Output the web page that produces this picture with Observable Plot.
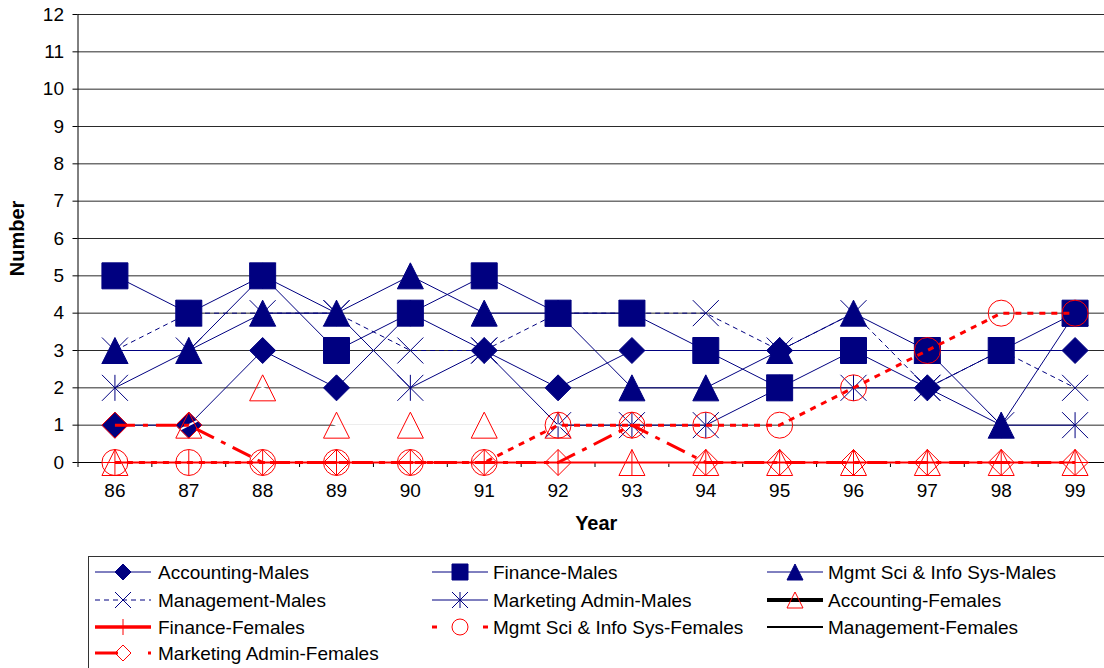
<!DOCTYPE html>
<html><head><meta charset="utf-8">
<script src="https://cdn.jsdelivr.net/npm/d3@7"></script>
<script src="https://cdn.jsdelivr.net/npm/@observablehq/plot@0.6"></script>
<style>
body{margin:0;background:#fff;overflow:hidden;font-family:"Liberation Sans",Arial,sans-serif;}
#wrap{position:relative;width:1104px;height:668px;overflow:hidden;}
#chart svg,#legend svg{display:block;}
</style></head>
<body><div id="wrap"><div id="chart"></div><div id="legend"></div></div>
<script>
// ---- data ----
const years = [86,87,88,89,90,91,92,93,94,95,96,97,98,99];
const accountingMales   = [1,1,3,2,4,3,2,3,3,3,3,2,3,3];
const financeMales      = [5,4,5,3,4,5,4,4,3,2,3,3,3,4];
const msisMales         = [3,3,4,4,5,4,4,2,2,3,4,3,1,4];
const managementMales   = [3,4,4,4,3,3,4,4,4,3,4,2,3,2];
const marketingMales    = [2,3,5,4,2,3,1,1,1,2,2,2,1,1];
const accountingFemales = [0,1,2,1,1,1,1,0,0,0,0,0,0,0];
const financeFemales    = [0,0,0,0,0,0,0,0,0,0,0,0,0,0];
const msisFemales       = [0,0,0,0,0,0,1,1,1,1,2,3,4,4];
const managementFemales = [0,0,0,0,0,0,0,0,0,0,0,0,0,0];
const marketingFemales  = [1,1,0,0,0,0,0,1,0,0,0,0,0,0];
const yTicks = [0,1,2,3,4,5,6,7,8,9,10,11,12];
const seriesNames = ["Accounting-Males","Finance-Males","Mgmt Sci & Info Sys-Males","Management-Males","Marketing Admin-Males","Accounting-Females","Finance-Females","Mgmt Sci & Info Sys-Females","Management-Females","Marketing Admin-Females"];
const xTitle = "Year", yTitle = "Number";

// ---- symbols (Excel-like markers) ----
function mk(f){return {draw(c,size){const r=Math.sqrt(size/Math.PI);f(c,r);}};}
const SYM = {
  diamond: mk((c,r)=>{c.moveTo(0,-r);c.lineTo(r,0);c.lineTo(0,r);c.lineTo(-r,0);c.closePath();}),
  square: mk((c,r)=>{c.moveTo(-r,-r);c.lineTo(r,-r);c.lineTo(r,r);c.lineTo(-r,r);c.closePath();}),
  triangle: mk((c,r)=>{c.moveTo(0,-r);c.lineTo(r,r);c.lineTo(-r,r);c.closePath();}),
  times: mk((c,r)=>{c.moveTo(-r,-r);c.lineTo(r,r);c.moveTo(r,-r);c.lineTo(-r,r);}),
  asterisk: mk((c,r)=>{c.moveTo(-r,-r);c.lineTo(r,r);c.moveTo(r,-r);c.lineTo(-r,r);c.moveTo(0,-r);c.lineTo(0,r);}),
  plus: mk((c,r)=>{c.moveTo(-r,0);c.lineTo(r,0);c.moveTo(0,-r);c.lineTo(0,r);}),
  circle: mk((c,r)=>{c.moveTo(r,0);c.arc(0,0,r,0,2*Math.PI);})
};

const NAVY="#000080", RED="#ff0000";
const series = [
 {values:accountingMales, line:NAVY, lw:1, sym:"diamond", fill:NAVY, ms:NAVY},
 {values:financeMales, line:NAVY, lw:1, sym:"square", fill:NAVY, ms:NAVY},
 {values:msisMales, line:NAVY, lw:1, sym:"triangle", fill:NAVY, ms:NAVY},
 {values:managementMales, line:NAVY, lw:1, dash:"5,4", sym:"times", fill:"none", ms:NAVY},
 {values:marketingMales, line:NAVY, lw:1, sym:"asterisk", fill:"none", ms:NAVY},
 {values:accountingFemales, line:"#fff", legendLine:"#000", lw:2, legendLw:4, sym:"triangle", fill:"none", ms:RED},
 {values:financeFemales, line:RED, lw:2, legendLw:3.5, sym:"plus", fill:"none", ms:RED},
 {values:msisFemales, line:RED, lw:3, dash:"6,6", legendDash:"5,46,6", sym:"circle", fill:"none", ms:RED},
 {values:managementFemales, line:"#000", lw:1, legendLw:2, sym:null, under:true},
 {values:marketingFemales, line:RED, lw:3, dash:"20,8,5,8", legendDash:"23,30,4", sym:"diamond", fill:"none", ms:RED}
].map((s,i)=>({...s, name:seriesNames[i]}));

const rowsOf = s => years.map((yr,i)=>({year:yr, value:s.values[i]}));
const boundaries = [...years.map(y=>y-0.5), years[years.length-1]+0.5];

function seriesMarks(s){
  const data = rowsOf(s);
  const m = [Plot.line(data,{x:"year",y:"value",stroke:s.line,strokeWidth:s.lw,strokeDasharray:s.dash||null,strokeLinecap:"butt",strokeLinejoin:"miter",curve:"linear"})];
  if (s.sym) m.push(Plot.dot(data,{x:"year",y:"value",r:13,symbol:SYM[s.sym],fill:s.fill,stroke:s.ms,strokeWidth:1}));
  return m;
}

const marks = [
  Plot.gridY({ticks:yTicks.filter(v=>v>0), stroke:"#2a2a2a", strokeOpacity:1}),
  Plot.axisY({ticks:yTicks, tickSize:5, tickPadding:9, fontSize:19, label:null}),
  Plot.axisX({ticks:boundaries, tickSize:5, tickFormat:()=>"", label:null}),
  Plot.axisX({ticks:years, tickSize:0, tickPadding:21, fontSize:19, label:null}),
  Plot.ruleX([boundaries[0]], {stroke:"#000"}),
  Plot.ruleY([0], {stroke:"#000"}),
  ...series.filter(s=>s.under).flatMap(seriesMarks),
  ...series.filter(s=>!s.under).flatMap(seriesMarks),
  Plot.text([yTitle],{text:d=>d, frameAnchor:"left", dx:-60, rotate:-90, textAnchor:"middle", lineAnchor:"middle", fontWeight:"bold", fontSize:20}),
  Plot.text([xTitle],{text:d=>d, frameAnchor:"bottom", dy:61, dx:5, lineAnchor:"middle", fontWeight:"bold", fontSize:20})
];

const chart = Plot.plot({
  width:1104, height:545,
  marginLeft:77.5, marginRight:0, marginTop:14, marginBottom:83,
  x:{type:"linear", domain:[85.5,99.5], range:[77.5,1111.5]},
  y:{type:"linear", domain:[0,12], range:[462,14]},
  style:{fontFamily:'"Liberation Sans", Arial, sans-serif', fontSize:"19px", color:"#000", background:"#fff"},
  marks
});
document.getElementById("chart").appendChild(chart);

// ---- legend ----
const lg = d3.select("#legend").append("svg").attr("width",1104).attr("height",123)
  .style("font-family",'"Liberation Sans", Arial, sans-serif').style("font-size","19px");
lg.append("rect").attr("x",88.5).attr("y",11.5).attr("width",1100).attr("height",200).attr("fill","#fff").attr("stroke","#333");
const rowY=[27,55,82,108], colX=[95,432,767], textX=[158,493,828];
series.forEach((s,i)=>{
  const r=Math.floor(i/3), c=i%3, y=rowY[r], x0=colX[c], x1=x0+56;
  lg.append("line").attr("x1",x0).attr("x2",x1).attr("y1",y).attr("y2",y)
    .attr("stroke",s.legendLine||s.line).attr("stroke-width",s.legendLw||s.lw)
    .attr("stroke-dasharray",s.legendDash||s.dash||null);
  if (s.sym){
    const p=d3.path(); SYM[s.sym].draw(p, Math.PI*8*8);
    lg.append("path").attr("d",p.toString()).attr("transform",`translate(${(x0+x1)/2},${y})`)
      .attr("fill",s.fill).attr("stroke",s.ms).attr("stroke-width",1);
  }
  lg.append("text").attr("x",textX[c]).attr("y",y).attr("dy","0.35em").text(s.name);
});
</script>
</body></html>
